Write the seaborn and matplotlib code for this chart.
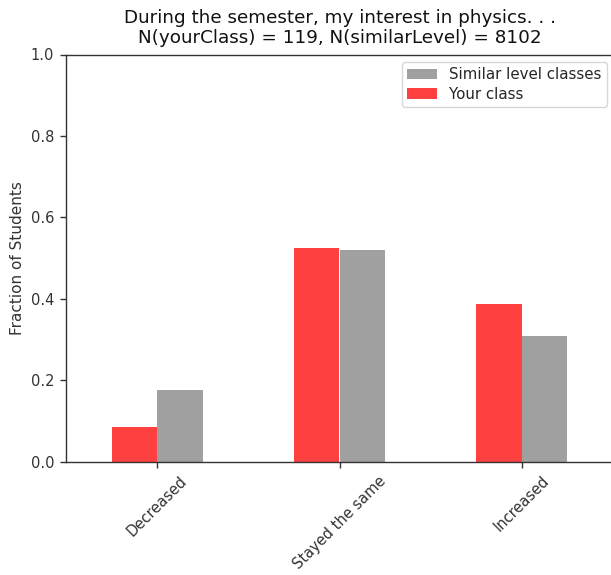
import matplotlib
matplotlib.use("Agg")
import matplotlib.pyplot as plt
import seaborn as sns
import pandas as pd

# Survey responses: "During the semester, my interest in physics..."
categories = ["Decreased", "Stayed the same", "Increased"]
your_class = [0.085, 0.525, 0.387]
similar_level = [0.175, 0.520, 0.308]
n_your_class = 119
n_similar_level = 8102

df = pd.DataFrame({
    "response": categories * 2,
    "fraction": your_class + similar_level,
    "group": ["Your class"] * 3 + ["Similar level classes"] * 3,
})

sns.set_style("ticks")
plt.rcParams["font.family"] = ["DejaVu Sans"]

W, H = 611, 575
fig = plt.figure(figsize=(W / 100, H / 100), dpi=100)
ax = fig.add_axes([66 / W, (H - 461.5) / H, 547 / W, 407 / H])

sns.barplot(
    data=df, x="response", y="fraction", hue="group",
    order=categories, hue_order=["Your class", "Similar level classes"],
    palette={"Your class": "red", "Similar level classes": "gray"},
    saturation=1, alpha=0.75, width=0.5, edgecolor="none", linewidth=0,
    ax=ax,
)

ax.set_xlim(-0.5, 2.5)
ax.set_ylim(0, 1.0)
ax.set_yticks([0.0, 0.2, 0.4, 0.6, 0.8, 1.0])
ax.set_xlabel("")
ax.set_ylabel("Fraction of Students", fontsize=11, color="#333333", labelpad=4)
ax.tick_params(axis="both", labelsize=10.5, colors="#333333", length=4.5,
               width=1, pad=4)
ax.tick_params(axis="x", labelrotation=45)
for lbl in ax.get_xticklabels():
    lbl.set_ha("center")
    lbl.set_fontsize(10.5)
for sp in ax.spines.values():
    sp.set_color("#333333")
    sp.set_linewidth(1.0)

ax.set_title(
    "During the semester, my interest in physics. . .\n"
    f"N(yourClass) = {n_your_class}, N(similarLevel) = {n_similar_level}",
    fontsize=13.2, pad=8, color="#111111", linespacing=1.15,
)

handles, labels = ax.get_legend_handles_labels()
ax.legend(handles[::-1], labels[::-1], loc="upper right",
          bbox_to_anchor=((607 - 66) / 547, (461.5 - 62) / 407),
          borderaxespad=0, fontsize=10.8, frameon=True, fancybox=True,
          edgecolor="0.8", framealpha=0.8, labelspacing=0.3, borderpad=0.35)

fig.savefig("out.png", dpi=100)
